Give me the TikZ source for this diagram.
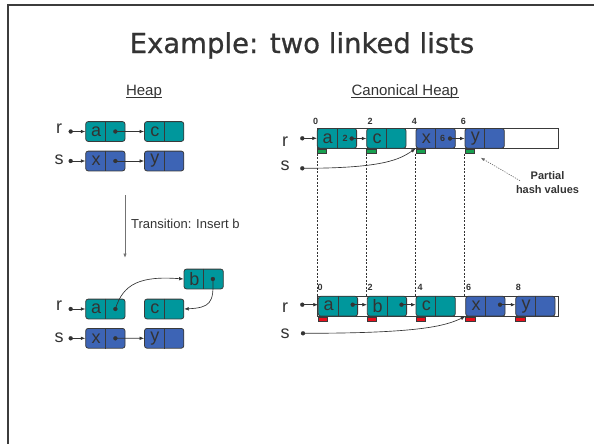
\documentclass[tikz,border=0pt]{standalone}
\usepackage{fontspec}
\setmainfont{Liberation Sans}
\newfontfamily\titlefont{DejaVu Sans}[FakeBold=0.7]
\usetikzlibrary{arrows.meta,calc}

\definecolor{tealcell}{HTML}{00979C}
\definecolor{bluecell}{HTML}{3D64B5}
\definecolor{edgegray}{HTML}{3A3A3A}
\definecolor{inkgray}{HTML}{333333}
\definecolor{hashgreen}{HTML}{17A04F}
\definecolor{hashred}{HTML}{E8101C}
\definecolor{framegray}{HTML}{3C3C3C}

\tikzset{
  cellbox/.style={draw=edgegray, line width=0.8pt, rounded corners=2.5pt,
    minimum width=39.3pt, minimum height=19.8pt, inner sep=0pt},
  divider/.style={draw=edgegray, line width=0.8pt},
  celltext/.style={text=inkgray, inner sep=0pt, font=\fontsize{18}{18}\selectfont},
  varlabel/.style={text=inkgray, inner sep=0pt, font=\fontsize{18}{18}\selectfont},
  ptdot/.style={circle, fill=inkgray, draw=inkgray, line width=0.2pt, inner sep=0pt, minimum size=4pt},
  ptr/.style={draw=inkgray, line width=0.65pt, -{Latex[length=4.5pt,width=3.6pt]}},
  transarrow/.style={draw=black!55, line width=0.9pt, -{Latex[length=4.5pt,width=3.6pt]}},
  bigrow/.style={draw=edgegray, line width=0.8pt, fill=white,
    minimum width=241.4pt, minimum height=20pt, inner sep=0pt},
  hashmark/.style={draw=edgegray, line width=0.4pt, minimum width=9.5pt,
    minimum height=4.5pt, inner sep=0pt, anchor=north west},
  idx/.style={text=inkgray, inner sep=0pt, font=\bfseries\fontsize{9}{9}\selectfont},
  guide/.style={draw=inkgray, line width=0.6pt, dash pattern=on 2pt off 1.5pt},
  headline/.style={text=inkgray, inner sep=0pt, anchor=base, font=\fontsize{15}{15}\selectfont},
  underl/.style={draw=inkgray, line width=0.6pt},
}

% one list cell: name, x, y, fill colour, letter
\newcommand\mkcell[5]{%
  \node[cellbox, fill=#4] (#1) at (#2,#3) {};
  \draw[divider] (#1.north) -- (#1.south);
  \node[celltext] (#1t) at ($(#1.west)!0.27!(#1.east)$) {#5};
}

\begin{document}
\begin{tikzpicture}[x=1pt,y=-1pt]
\useasboundingbox (0,0) rectangle (594,444);

% slide frame
\coordinate (frameBL) at (7.8,444);
\coordinate (frameTL) at (7.8,5);
\coordinate (frameTR) at (594,5);
\draw[framegray, line width=2.5pt] (frameBL) -- (frameTL) -- (frameTR);

% title
\node[text=inkgray, inner sep=0pt, anchor=base,
  font=\titlefont\fontsize{27.5}{27.5}\selectfont] (title) at (302,53)
  {Example: two linked lists};

% column headings
\node[headline] (heap) at (144,95) {Heap};
\draw[underl] ([yshift=-2pt]heap.base west) -- ([yshift=-2pt]heap.base east);
\node[headline] (canon) at (405,95) {Canonical Heap};
\draw[underl] ([yshift=-2pt]canon.base west) -- ([yshift=-2pt]canon.base east);

% ---------- heap before the transition ----------
\mkcell{A1}{105.35}{131.5}{tealcell}{a}
\mkcell{C1}{164.15}{131.5}{tealcell}{c}
\mkcell{X1}{105.35}{161}{bluecell}{x}
\mkcell{Y1}{164.15}{161}{bluecell}{y}
\node[varlabel] (r1) at (59,128.5) {r};
\node[varlabel] (s1) at (59,160) {s};
\node[ptdot] (r1d) at (70.7,131.5) {};
\node[ptdot] (s1d) at (70.7,161) {};
\node[ptdot] (A1d) at ($(A1.west)!0.75!(A1.east)$) {};
\node[ptdot] (X1d) at ($(X1.west)!0.75!(X1.east)$) {};
\draw[ptr] (r1d.center) -- (A1.west);
\draw[ptr] (s1d.center) -- (X1.west);
\draw[ptr] (A1d.center) -- (C1.west);
\draw[ptr] (X1d.center) -- (Y1.west);

% transition
\coordinate (tr1) at (125,195);
\coordinate (tr2) at (125,258);
\draw[transarrow] (tr1) -- (tr2);
\node[text=inkgray, inner sep=0pt, anchor=west,
  font=\fontsize{13}{13}\selectfont] (trlabel) at (131,223.5)
  {Transition: Insert b};

% ---------- heap after inserting b ----------
\mkcell{B2}{203.65}{279}{tealcell}{b}
\mkcell{A2}{105.35}{309}{tealcell}{a}
\mkcell{C2}{164.15}{309}{tealcell}{c}
\mkcell{X2}{105.35}{338.3}{bluecell}{x}
\mkcell{Y2}{164.15}{338.3}{bluecell}{y}
\node[varlabel] (r2) at (59,306) {r};
\node[varlabel] (s2) at (59,337.5) {s};
\node[ptdot] (r2d) at (70.7,309) {};
\node[ptdot] (s2d) at (70.7,338.3) {};
\node[ptdot] (A2d) at ($(A2.west)!0.75!(A2.east)$) {};
\node[ptdot] (X2d) at ($(X2.west)!0.75!(X2.east)$) {};
\node[ptdot] (B2d) at ($(B2.west)!0.73!(B2.east)$) {};
\draw[ptr] (r2d.center) -- (A2.west);
\draw[ptr] (s2d.center) -- (X2.west);
\draw[ptr] (X2d.center) -- (Y2.west);
\draw[ptr] (A2d.center) .. controls (123,284) and (140,275.7) .. (B2.west);
\draw[ptr] (B2d.center) .. controls (214,303) and (210,307.7) .. (C2.east);

% ---------- canonical heap, before ----------
\node[bigrow] (TR) at (438,138.3) {};
\mkcell{CA}{336.95}{138.3}{tealcell}{a}
\mkcell{CC}{386.35}{138.3}{tealcell}{c}
\mkcell{CX}{435.65}{138.3}{bluecell}{x}
\mkcell{CY}{484.65}{138.3}{bluecell}{y}
\node[idx] (i0) at (315.7,121.7) {0};
\node[idx] (i2) at (370,121.7) {2};
\node[idx] (i4) at (414.3,121.7) {4};
\node[idx] (i6) at (463.3,121.7) {6};
\node[idx] (CAo) at (345,138.7) {2};
\node[idx] (CXo) at (442.7,138.7) {6};
\node[ptdot] (CAd) at (351.7,138.5) {};
\node[ptdot] (CXd) at (450,138.5) {};
\draw[ptr] (CAd.center) -- (CAd.center -| CC.west);
\draw[ptr] (CXd.center) -- (CXd.center -| CY.west);
\node[hashmark, fill=hashgreen] (gA) at (CA.south west) {};
\node[hashmark, fill=hashgreen] (gC) at (CC.south west) {};
\node[hashmark, fill=hashgreen] (gX) at (CX.south west) {};
\node[hashmark, fill=hashgreen] (gY) at (CY.south west) {};
\node[varlabel] (r3) at (285,141.5) {r};
\node[varlabel] (s3) at (285,166) {s};
\node[ptdot] (r3d) at (302.3,138.3) {};
\node[ptdot] (s3d) at (302.3,168.3) {};
\draw[ptr] (r3d.center) -- (CA.west);
\draw[ptr] (s3d.center) .. controls (385,168.3) and (400,159) .. (CX.south west);

% partial hash annotation
\node[text=inkgray, inner sep=0pt, align=center,
  font=\bfseries\fontsize{11}{14}\selectfont] (ph) at (547.5,183) {Partial\\hash values};
\coordinate (phtail) at (520,180.7);
\coordinate (phtip) at (480.7,157.7);
\draw[draw=black!60, line width=0.6pt, dash pattern=on 1.2pt off 1.2pt,
  -{Latex[length=4pt,width=3pt]}] (phtail) -- (phtip);

% ---------- canonical heap, after ----------
\node[bigrow] (BR) at (438,306) {};
\mkcell{BA}{337.95}{306.2}{tealcell}{a}
\mkcell{BB}{386.95}{306.2}{tealcell}{b}
\mkcell{BC}{435.65}{306.2}{tealcell}{c}
\mkcell{BX}{485.35}{306.2}{bluecell}{x}
\mkcell{BY}{535.35}{306.2}{bluecell}{y}
\node[idx] (j0) at (320,287.3) {0};
\node[idx] (j2) at (370,287.3) {2};
\node[idx] (j4) at (420,287.3) {4};
\node[idx] (j6) at (468.7,287.3) {6};
\node[idx] (j8) at (518.3,287.3) {8};
\node[ptdot] (BAd) at (352.7,304.7) {};
\node[ptdot] (BBd) at (401.5,304.7) {};
\node[ptdot] (BXd) at (500,304.7) {};
\draw[ptr] (BAd.center) -- (BAd.center -| BB.west);
\draw[ptr] (BBd.center) -- (BBd.center -| BC.west);
\draw[ptr] (BXd.center) -- (BXd.center -| BY.west);
\node[hashmark, fill=hashred] (hA) at (BA.south west) {};
\node[hashmark, fill=hashred] (hB) at (BB.south west) {};
\node[hashmark, fill=hashred] (hC) at (BC.south west) {};
\node[hashmark, fill=hashred] (hX) at (BX.south west) {};
\node[hashmark, fill=hashred] (hY) at (BY.south west) {};
\node[varlabel] (r4) at (285,307.7) {r};
\node[varlabel] (s4) at (285,333.3) {s};
\node[ptdot] (r4d) at (302.3,304.7) {};
\node[ptdot] (s4d) at (303,333.3) {};
\draw[ptr] (r4d.center) -- (r4d.center -| BA.west);
\draw[ptr] (s4d.center) .. controls (420,333.3) and (445,326) .. (BX.south west);

% dashed guides linking the two canonical layouts
\draw[guide] (gA.south west) -- (gA.south west |- BR.north);
\draw[guide] (gC.south west) -- (gC.south west |- BR.north);
\draw[guide] (gX.south west) -- (gX.south west |- BR.north);
\draw[guide] (gY.south west) -- (gY.south west |- BR.north);
\end{tikzpicture}
\end{document}
